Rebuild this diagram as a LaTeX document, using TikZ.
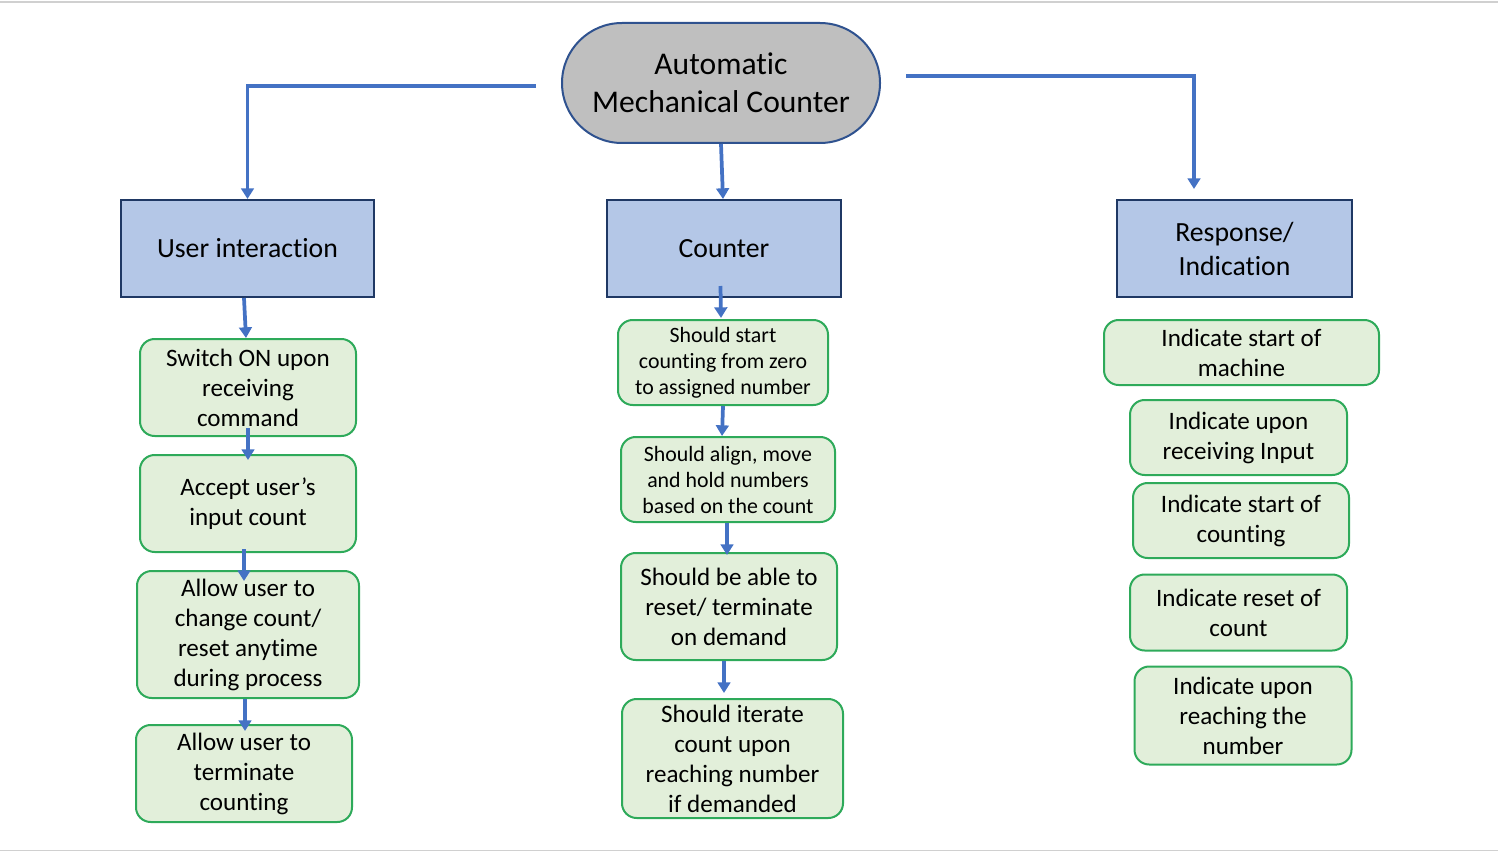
\documentclass[tikz,border=0pt]{standalone}
\usepackage{fontspec}
\setmainfont{Carlito}[Ligatures=NoCommon]
\usetikzlibrary{arrows.meta,calc}
\definecolor{linkblue}{HTML}{4472C4}
\definecolor{navy}{HTML}{1F3864}
\definecolor{topborder}{HTML}{2F528F}
\definecolor{topfill}{HTML}{BFBFBF}
\definecolor{headfill}{HTML}{B4C7E7}
\definecolor{greenfill}{HTML}{E2EFDA}
\definecolor{greenline}{HTML}{2EAA5A}
\definecolor{framegray}{HTML}{D0D0D0}
\begin{document}
\begin{tikzpicture}[x=0.75pt,y=-0.75pt,
  topnode/.style={draw=topborder,fill=topfill,line width=1.5pt,rounded corners=45pt,
    minimum width=238.5pt,minimum height=90pt,inner sep=0pt,align=center,
    font=\fontsize{23.7}{28.5}\selectfont},
  headbox/.style={draw=navy,fill=headfill,line width=1.5pt,
    minimum height=72.75pt,inner sep=0pt,align=center,
    font=\fontsize{20.8}{25.5}\selectfont},
  reqbox/.style={draw=greenline,fill=greenfill,line width=1.5pt,rounded corners=11pt,
    inner sep=0pt,align=center,font=\fontsize{18.8}{22.5}\selectfont},
  smalltext/.style={font=\fontsize{16.4}{19.5}\selectfont},
  link/.style={draw=linkblue,line width=2.8pt,-{Triangle[width=9.5pt,length=8pt]}}]
\useasboundingbox (0,0) rectangle (1498,852);
\draw[framegray,line width=1pt] (0,2) -- (1498,2);
\draw[framegray,line width=1pt] (0,850.5) -- (1498,850.5);

\node[topnode] (top) at (721,83) {Automatic\\Mechanical Counter};

\node[headbox,minimum width=189.75pt] (ui) at (247.5,248.5) {User interaction};
\node[headbox,minimum width=175.5pt] (ctr) at (724,248.5) {Counter};
\node[headbox,minimum width=176.25pt] (resp) at (1234.5,248.5) {Response/\\Indication};

\node[reqbox,minimum width=162pt,minimum height=72.75pt] (l1) at (248,387.5) {Switch ON upon\\receiving\\command};
\node[reqbox,minimum width=162pt,minimum height=72.75pt] (l2) at (248,503.5) {Accept user’s\\input count};
\node[reqbox,minimum width=166.5pt,minimum height=95.25pt] (l3) at (248,634.5) {Allow user to\\change count/\\reset anytime\\during process};
\node[reqbox,minimum width=162pt,minimum height=72.75pt] (l4) at (244,773.5) {Allow user to\\terminate\\counting};

\node[reqbox,smalltext,minimum width=157.5pt,minimum height=63.75pt] (m1) at (723,362.5) {Should start\\counting from zero\\to assigned number};
\node[reqbox,smalltext,minimum width=160.5pt,minimum height=63.75pt] (m2) at (728,479.5) {Should align, move\\and hold numbers\\based on the count};
\node[reqbox,minimum width=162pt,minimum height=80.25pt] (m3) at (729,606.5) {Should be able to\\reset/ terminate\\on demand};
\node[reqbox,minimum width=165.75pt,minimum height=89.25pt] (m4) at (732.5,758.5) {Should iterate\\count upon\\reaching number\\if demanded};

\node[reqbox,minimum width=206.25pt,minimum height=48.75pt] (r1) at (1241.5,352.5) {Indicate start of\\machine};
\node[reqbox,minimum width=162.75pt,minimum height=56.25pt] (r2) at (1238.5,437.5) {Indicate upon\\receiving Input};
\node[reqbox,minimum width=162pt,minimum height=56.25pt] (r3) at (1241,520.5) {Indicate start of\\counting};
\node[reqbox,minimum width=162.75pt,minimum height=57pt] (r4) at (1238.5,612.5) {Indicate reset of\\count};
\node[reqbox,minimum width=162.75pt,minimum height=73.5pt] (r5) at (1243,715.5) {Indicate upon\\reaching the\\number};

% top connectors
\coordinate (lstart) at ($(top.west)+(-25,3)$);
\coordinate (rstart) at ($(top.east)+(25,-7)$);
\coordinate (rend) at ($(resp.north)+(-40.5,-10)$);
\draw[link] (lstart) -| (ui.north);
\draw[link] (rstart) -| (rend);
\draw[link] (top.south) -- ($(ctr.north)+(-1,0)$);

% left column
\draw[link] ($(ui.south)+(-3.5,0)$) -- ($(l1.north)+(-2,0)$);
\draw[link] ($(l1.south)+(0,-9)$) -- ($(l2.north)+(0,6)$);
\draw[link] ($(l2.south)+(-4,-4)$) -- ($(l3.north)+(-4,11)$);
\draw[link] ($(l3.south)+(-3,0)$) -- ($(l4.north)+(1,7)$);

% middle column
\draw[link] ($(ctr.south)+(-3.5,-12)$) -- ($(m1.north)+(-2,-1)$);
\draw[link] ($(m1.south)+(0,0)$) -- ($(m2.north)+(-6,0)$);
\draw[link] ($(m2.south)+(-1,0)$) -- ($(m3.north)+(-2,3)$);
\draw[link] ($(m3.south)+(-5,0)$) -- ($(m4.north)+(-8.5,-5)$);
\end{tikzpicture}
\end{document}
